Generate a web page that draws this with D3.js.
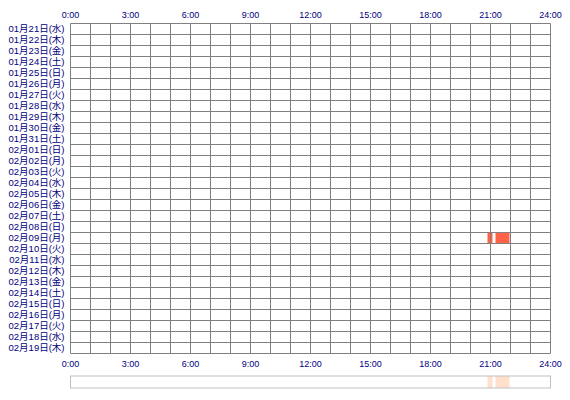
<!DOCTYPE html>
<html>
<head>
<meta charset="utf-8">
<script src="https://cdn.jsdelivr.net/npm/d3@7"></script>
<style>
  body { margin: 0; background: #fff; }
  text { font-family: "Liberation Sans", "Noto Sans CJK JP", sans-serif; fill: #000080; }
</style>
</head>
<body>
<div id="chart"></div>
<script>
  const days = [
    '01月21日(水)', '01月22日(木)', '01月23日(金)', '01月24日(土)', '01月25日(日)',
    '01月26日(月)', '01月27日(火)', '01月28日(水)', '01月29日(木)', '01月30日(金)',
    '01月31日(土)', '02月01日(日)', '02月02日(月)', '02月03日(火)', '02月04日(水)',
    '02月05日(木)', '02月06日(金)', '02月07日(土)', '02月08日(日)', '02月09日(月)',
    '02月10日(火)', '02月11日(水)', '02月12日(木)', '02月13日(金)', '02月14日(土)',
    '02月15日(日)', '02月16日(月)', '02月17日(火)', '02月18日(水)', '02月19日(木)'
  ];

  const hourTicks = [0, 3, 6, 9, 12, 15, 18, 21, 24];
  const hourLabels = ['0:00', '3:00', '6:00', '9:00', '12:00', '15:00', '18:00', '21:00', '24:00'];

  // sessions: day, start, end (hh:mm)
  const sessionDays = ['02月09日(月)', '02月09日(月)'];
  const sessionStarts = ['20:51', '21:15'];
  const sessionEnds = ['21:06', '21:57'];

  const margin = {top: 23.5, left: 70.5};

  const toHours = s => { const [h, m] = s.split(':').map(Number); return h + m / 60; };
  const sessions = sessionDays.map((d, i) => ({day: d, start: toHours(sessionStarts[i]), end: toHours(sessionEnds[i])}));

  const gridW = 480, gridH = 330;

  const x = d3.scaleLinear().domain([0, 24]).range([0, gridW]);
  const y = d3.scaleBand().domain(days).range([0, gridH]);

  const svg = d3.select('#chart').append('svg')
      .attr('width', 570)
      .attr('height', 400)
    .append('g')
      .attr('transform', `translate(${margin.left},${margin.top})`);

  // bars
  svg.selectAll('.bar')
    .data(sessions)
    .enter().append('rect')
      .attr('class', 'bar')
      .attr('x', d => x(d.start))
      .attr('width', d => x(d.end) - x(d.start))
      .attr('y', d => y(d.day))
      .attr('height', y.bandwidth())
      .attr('fill', '#ff6347');

  // grid
  const grid = svg.append('g').attr('stroke', '#808080').attr('stroke-width', 1);
  grid.selectAll('.vline')
    .data(d3.range(0, 25))
    .enter().append('line')
      .attr('x1', d => x(d)).attr('x2', d => x(d))
      .attr('y1', 0).attr('y2', gridH);
  grid.selectAll('.hline')
    .data(days.concat(['end']))
    .enter().append('line')
      .attr('x1', 0).attr('x2', gridW)
      .attr('y1', (d, i) => i * y.step()).attr('y2', (d, i) => i * y.step());

  // day labels
  svg.selectAll('.daylabel')
    .data(days)
    .enter().append('text')
      .attr('x', -6)
      .attr('y', d => y(d) + y.bandwidth() / 2)
      .attr('dy', '0.35em')
      .attr('text-anchor', 'end')
      .attr('font-size', '9.5px')
      .text(d => d);

  // hour labels, top and bottom
  [-9, gridH + 10].forEach(ty => {
    svg.selectAll(null)
      .data(hourTicks)
      .enter().append('text')
        .attr('x', d => x(d))
        .attr('y', ty)
        .attr('dy', '0.35em')
        .attr('text-anchor', 'middle')
        .attr('font-size', '9px')
        .text((d, i) => hourLabels[i]);
  });

  // summary strip
  const strip = svg.append('g').attr('transform', `translate(0,${352.5})`);
  strip.selectAll('.sbar')
    .data(sessions)
    .enter().append('rect')
      .attr('x', d => x(d.start))
      .attr('width', d => x(d.end) - x(d.start))
      .attr('y', 0)
      .attr('height', 12)
      .attr('fill', '#ffe0cc');
  strip.append('rect')
    .attr('width', gridW)
    .attr('height', 12)
    .attr('fill', 'none')
    .attr('stroke', '#c0c0c0');
</script>
</body>
</html>
